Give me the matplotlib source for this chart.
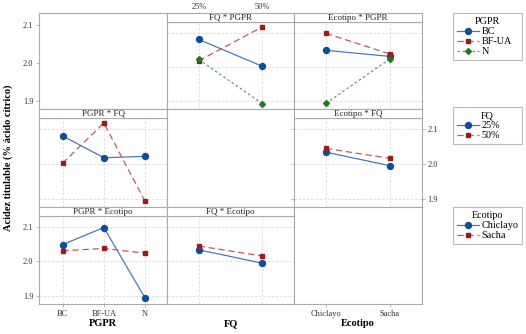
import matplotlib
matplotlib.use('agg')
import numpy as np
import matplotlib.pyplot as plt
from matplotlib.lines import Line2D

plt.rcParams['font.family'] = ['Liberation Serif', 'DejaVu Serif']

# factor levels
pgpr = ['BC', 'BF-UA', 'N']
fq = ['25%', '50%']
ecotipo = ['Chiclayo', 'Sacha']

# interaction means (rows = first factor, cols = second factor)
pgpr_fq = np.array([[2.081, 2.002],
                    [2.018, 2.118],
                    [2.022, 1.892]])
pgpr_eco = np.array([[2.049, 2.031],
                     [2.099, 2.038],
                     [1.893, 2.024]])
fq_eco = np.array([[2.034, 2.045],
                   [1.995, 2.016]])

yticks = [1.9, 2.0, 2.1]

W, H = 526, 334
fig = plt.figure(figsize=(W / 100, H / 100), dpi=100)

col_edges = [39, 167, 294, 422]
row_edges = [13, 109, 207, 304]
strip_h = 8.5
frame_c = '#aaaaaa'
grid_c = '#d8d8d8'

styles = [
    dict(color='#4a78b8', ls='-', marker='o', mfc='#0d4f9e', mec='#0d4f9e', ms=4.3),
    dict(color='#c05a5a', ls=(0, (5, 3)), marker='s', mfc='#9b1b1b', mec='#9b1b1b', ms=3.3),
    dict(color='#5aa05a', ls=(0, (2, 2)), marker='D', mfc='#1e7a1e', mec='#1e7a1e', ms=3.0),
]


def box(x0, y0, x1, y1):
    return [x0 / W, 1 - y1 / H, (x1 - x0) / W, (y1 - y0) / H]


def xlims(n):
    if n == 3:
        return (-0.57, 2.53)
    return (-0.5, 1.5)


def style_frame(ax):
    for s in ax.spines.values():
        s.set_color(frame_c)
        s.set_linewidth(0.8)
    ax.tick_params(length=2, width=0.6, color=frame_c, labelsize=6, pad=2,
                   labelcolor='#333333')


# panel definitions: (row, col) -> title, x labels, series list
panels = {
    (0, 1): ('FQ * PGPR', fq, [pgpr_fq[i] for i in range(3)]),
    (0, 2): ('Ecotipo * PGPR', ecotipo, [pgpr_eco[i] for i in range(3)]),
    (1, 0): ('PGPR * FQ', pgpr, [pgpr_fq[:, j] for j in range(2)]),
    (1, 2): ('Ecotipo * FQ', ecotipo, [fq_eco[:, j] for j in range(2)]),
    (2, 0): ('PGPR * Ecotipo', pgpr, [pgpr_eco[:, j] for j in range(2)]),
    (2, 1): ('FQ * Ecotipo', fq, [fq_eco[:, j] for j in range(2)]),
}

for r in range(3):
    for c in range(3):
        x0, x1 = col_edges[c], col_edges[c + 1]
        y0, y1 = row_edges[r], row_edges[r + 1]
        if (r, c) in panels:
            title, levels, series = panels[(r, c)]
            ax = fig.add_axes(box(x0, y0 + strip_h, x1, y1))
            style_frame(ax)
            xs = np.arange(len(levels))
            for i, vals in enumerate(series):
                ax.plot(xs, vals, lw=0.9, zorder=3, **styles[i])
            ax.set_xlim(xlims(len(levels)))
            ax.set_ylim(1.876, 2.134)
            ax.set_xticks(xs)
            ax.set_yticks(yticks)
            ax.grid(True, color=grid_c, ls=(0, (3, 2)), lw=0.6)
            ax.tick_params(labelbottom=False, labelleft=False, length=0)
            if (r, c) == (2, 0):
                ax.tick_params(labelbottom=True, labelleft=True, length=2)
                ax.set_xticklabels(levels)
                ax.set_yticklabels(['1.9', '2.0', '2.1'])
            if (r, c) == (1, 2):
                ax.tick_params(labelright=True, right=True, length=2)
                ax.set_yticklabels(['1.9', '2.0', '2.1'])
            # strip
            sa = fig.add_axes(box(x0, y0, x1, y0 + strip_h))
            style_frame(sa)
            sa.set_yticks([])
            sa.set_xlim(xlims(len(levels)))
            sa.text(0.5, 0.45, title, transform=sa.transAxes, ha='center',
                    va='center', fontsize=6.5, color='#222222')
            if r == 0 and c == 1:
                sa.set_xticks(xs)
                sa.set_xticklabels(levels)
                sa.tick_params(top=True, labeltop=True, bottom=False,
                               labelbottom=False, length=1, pad=0.5)
            else:
                sa.set_xticks([])
        else:
            ax = fig.add_axes(box(x0, y0, x1, y1))
            style_frame(ax)
            ax.set_xticks([])
            ax.set_yticks([])
            if (r, c) == (0, 0):
                ax.set_ylim(1.878, 2.132)
                ax.set_yticks(yticks)
                ax.set_yticklabels(['1.9', '2.0', '2.1'])
            if (r, c) == (2, 2):
                ax.set_xlim(xlims(2))
                ax.set_xticks(np.arange(2))
                ax.set_xticklabels(ecotipo)

# axis titles
fig.text(8 / W, 1 - 158 / H, 'Acidez titulable (% ácido cítrico)', rotation=90,
         ha='center', va='center', fontsize=7.5, fontweight='bold')
for name, xc in zip(['PGPR', 'FQ', 'Ecotipo'], [103, 231, 358]):
    fig.text(xc / W, 1 - 324 / H, name, ha='center', va='center',
             fontsize=7.5, fontweight='bold')

# legends, fixed width boxes on the right
for name, levels, top in [('PGPR', pgpr, 13), ('FQ', fq, 107),
                          ('Ecotipo', ecotipo, 207)]:
    handles = [Line2D([], [], lw=0.9, **styles[i]) for i in range(len(levels))]
    leg = fig.legend(handles, levels, title=name, loc='upper left',
                     bbox_to_anchor=(453 / W, 0, 69 / W, 1 - top / H),
                     mode='expand', fontsize=7.3, title_fontsize=7.3,
                     frameon=True, fancybox=False, edgecolor=frame_c,
                     handlelength=2.2, handletextpad=0.2, borderpad=0.4,
                     labelspacing=0.1, borderaxespad=0)
    leg.get_frame().set_linewidth(0.8)

plt.savefig('out.png', dpi=100)
